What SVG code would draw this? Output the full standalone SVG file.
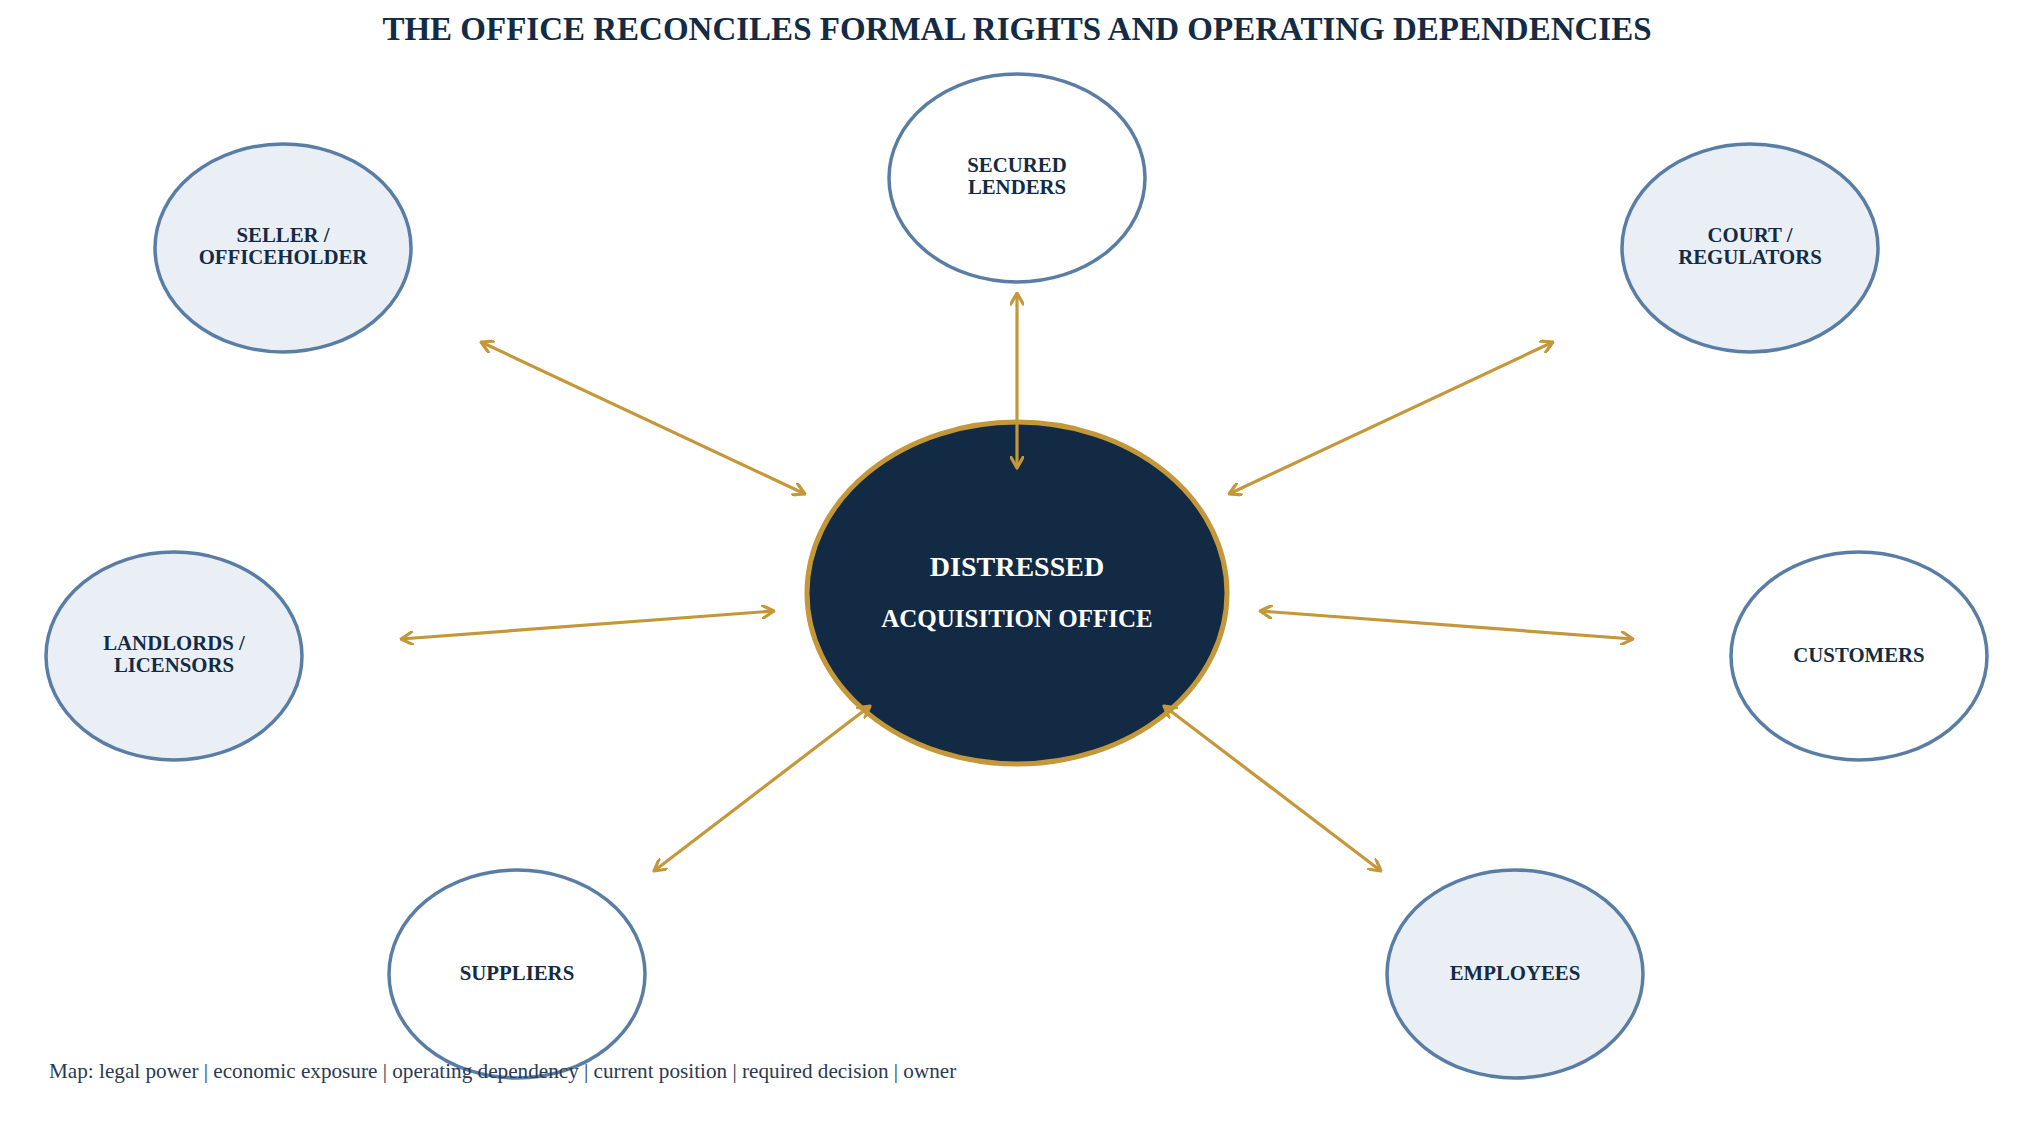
<svg xmlns="http://www.w3.org/2000/svg" width="2034" height="1134" viewBox="0 0 2034 1134">
<defs>
<style>
.title{font-family:"Liberation Serif","Times New Roman",serif;font-weight:bold;font-size:33px;fill:#132B45;text-anchor:middle}
.sat{stroke:#5A7DA5;stroke-width:3.5}
.light{fill:#EAEFF6}
.white{fill:#FFFFFF}
.lbl{font-family:"Liberation Serif","Times New Roman",serif;font-weight:bold;font-size:20.8px;fill:#132B45;text-anchor:middle}
.core{fill:#122A43;stroke:#C4983A;stroke-width:5}
.corelbl{font-family:"Liberation Serif","Times New Roman",serif;font-weight:bold;fill:#FFFFFF;text-anchor:middle}
.conn{stroke:#C4983A;stroke-width:3.2;fill:none;marker-start:url(#arr);marker-end:url(#arr)}
.foot{font-family:"Liberation Serif","Times New Roman",serif;font-size:21.2px;fill:#2B3A4F}
</style>
<marker id="arr" viewBox="0 0 14 14" refX="12.5" refY="7" markerWidth="14" markerHeight="14" markerUnits="userSpaceOnUse" orient="auto-start-reverse">
<path d="M1.5,0.8 L12.5,7 L1.5,13.2" fill="none" stroke="#C4983A" stroke-width="3.2" stroke-linecap="round" stroke-linejoin="round"/>
</marker>
</defs>
<rect width="2034" height="1134" fill="#FFFFFF"/>
<text class="title" x="1017" y="40">THE OFFICE RECONCILES FORMAL RIGHTS AND OPERATING DEPENDENCIES</text>

<g id="node-center">
<ellipse class="core" cx="1017" cy="593" rx="210" ry="171"/>
<text class="corelbl" x="1017" y="576" font-size="28">DISTRESSED</text>
<text class="corelbl" x="1017" y="627" font-size="25">ACQUISITION OFFICE</text>
</g>
<g id="node-seller">
<ellipse class="sat light" cx="283" cy="248" rx="128" ry="104"/>
<text class="lbl" x="283" y="242">SELLER /</text>
<text class="lbl" x="283" y="264">OFFICEHOLDER</text>
</g>
<g id="node-lenders">
<ellipse class="sat white" cx="1017" cy="178" rx="128" ry="104"/>
<text class="lbl" x="1017" y="172">SECURED</text>
<text class="lbl" x="1017" y="194">LENDERS</text>
</g>
<g id="node-court">
<ellipse class="sat light" cx="1750" cy="248" rx="128" ry="104"/>
<text class="lbl" x="1750" y="242">COURT /</text>
<text class="lbl" x="1750" y="264">REGULATORS</text>
</g>
<g id="node-landlords">
<ellipse class="sat light" cx="174" cy="656" rx="128" ry="104"/>
<text class="lbl" x="174" y="650">LANDLORDS /</text>
<text class="lbl" x="174" y="672">LICENSORS</text>
</g>
<g id="node-customers">
<ellipse class="sat white" cx="1859" cy="656" rx="128" ry="104"/>
<text class="lbl" x="1859" y="662">CUSTOMERS</text>
</g>
<g id="node-suppliers">
<ellipse class="sat white" cx="517" cy="974" rx="128" ry="104"/>
<text class="lbl" x="517" y="980">SUPPLIERS</text>
</g>
<g id="node-employees">
<ellipse class="sat light" cx="1515" cy="974" rx="128" ry="104"/>
<text class="lbl" x="1515" y="980">EMPLOYEES</text>
</g>

<g id="connectors">
<line class="conn" x1="481" y1="342" x2="805" y2="494"/>
<line class="conn" x1="1017" y1="293" x2="1017" y2="468"/>
<line class="conn" x1="1553" y1="342" x2="1229" y2="494"/>
<line class="conn" x1="401" y1="639" x2="774" y2="611"/>
<line class="conn" x1="1633" y1="639" x2="1260" y2="611"/>
<line class="conn" x1="654" y1="871" x2="870" y2="706"/>
<line class="conn" x1="1381" y1="871" x2="1164" y2="706"/>
</g>

<text class="foot" x="49" y="1078">Map: legal power | economic exposure | operating dependency | current position | required decision | owner</text>
</svg>
